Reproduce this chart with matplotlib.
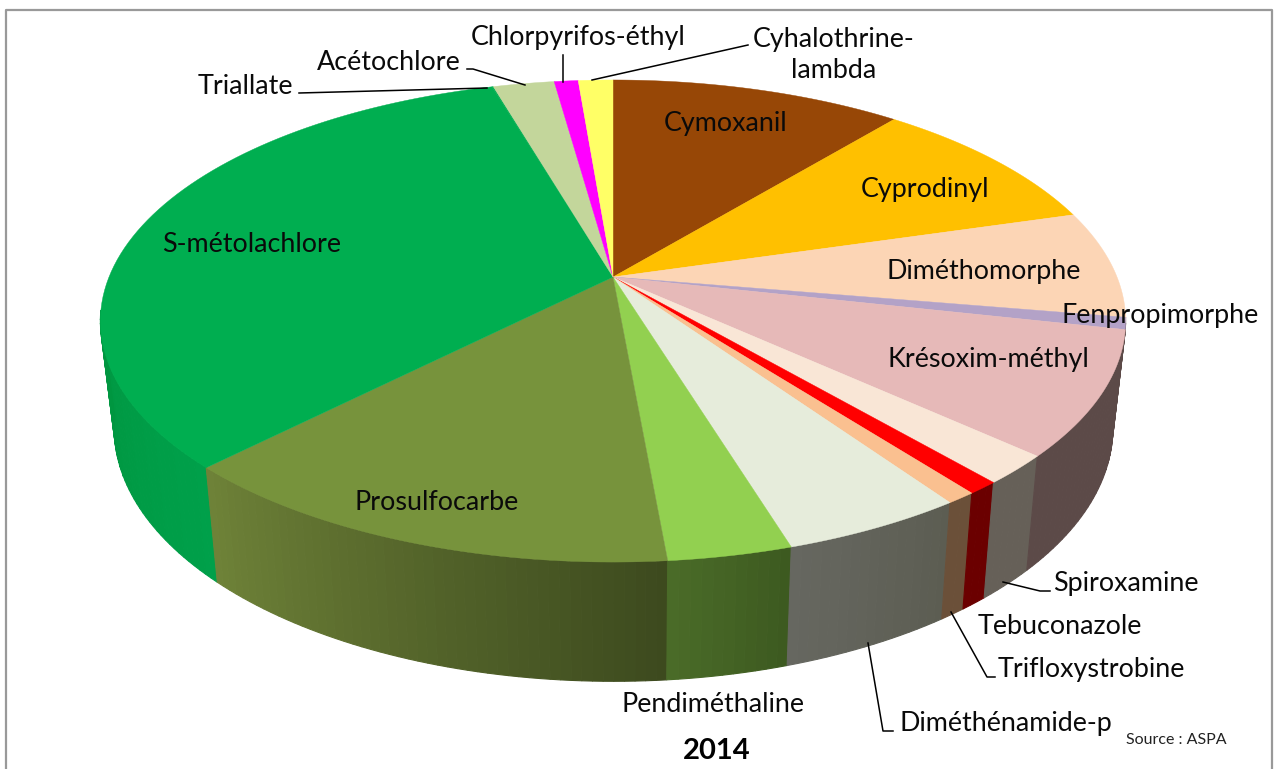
import numpy as np
import matplotlib
matplotlib.use('Agg')
from matplotlib import pyplot as plt

plt.rcParams['font.family'] = ['Lato', 'DejaVu Sans']

# share of each substance, clockwise from the top of the pie
substances = ['Cymoxanil', 'Cyprodinyl', 'Diméthomorphe', 'Fenpropimorphe', 'Krésoxim-méthyl',
              'Spiroxamine', 'Tebuconazole', 'Trifloxystrobine', 'Diméthénamide-p', 'Pendiméthaline',
              'Prosulfocarbe', 'S-métolachlore', 'Triallate', 'Acétochlore', 'Chlorpyrifos-éthyl',
              'Cyhalothrine-lambda']
shares = [10.97, 9.5, 7.2, 0.8, 8.3, 1.95, 0.85, 0.8, 4.9, 3.3, 13.8, 33.05, 0.05, 2.3, 0.9, 1.3]
top_colors = ['#974706', '#FFC000', '#FCD5B5', '#B3A2C7', '#E6B9B8', '#F9E6D6', '#FF0000', '#FAC090',
              '#E6ECDB', '#92D050', '#77933C', '#00AE50', '#00AE50', '#C3D69B', '#FF00FF', '#FFFF66']
# wall colours at the screen left and right end of each slice
wall_left = ['#974706', '#FFC000', '#FCD5B5', '#5C4A48', '#5C4A48', '#666058', '#6B0000', '#6B5039',
             '#666760', '#4A6B28', '#6E8238', '#009640', '#00A04A', '#C3D69B', '#FF00FF', '#FFFF66']
wall_right = ['#974706', '#FFC000', '#FCD5B5', '#5C4A48', '#5C4A48', '#666058', '#6B0000', '#6B5039',
              '#5C5D52', '#3D5A20', '#3D4A1E', '#00A04A', '#00A04A', '#C3D69B', '#FF00FF', '#FFFF66']

# perspective of the disc, in pixels
CX, CY = 613, 277
A, B, K = 504, 233, 0.1826
LOW_CX, LOW_CY, LOW_SX, LOW_SY = 613.5, 382, 0.974, 1.05


def rim(theta):
    w = 1 + K * np.cos(theta)
    return A * np.sin(theta) / w, B * np.cos(theta) / w


def rgb(c):
    return np.array(matplotlib.colors.to_rgb(c))


fig = plt.figure(figsize=(12.74, 7.69), dpi=100)
ax = fig.add_axes([0, 0, 1, 1])
ax.set_xlim(0, 1274)
ax.set_ylim(769, 0)
ax.axis('off')

edges = np.deg2rad(np.concatenate([[0], np.cumsum(shares)]) / sum(shares) * 360)

# side wall first, top face is painted over it
vis0, vis1 = np.deg2rad(98), np.deg2rad(262)
for i in range(len(shares)):
    t0, t1 = max(edges[i], vis0), min(edges[i + 1], vis1)
    if t1 <= t0:
        continue
    n = max(2, int(np.degrees(t1 - t0)))
    th = np.linspace(t0, t1, n + 1)
    u, v = rim(th)
    ux, uy = CX + u, CY - v
    lx, ly = LOW_CX + LOW_SX * u, LOW_CY - LOW_SY * v
    for j in range(n):
        f = j / max(n - 1, 1)
        # theta runs clockwise, so along the front wall it goes right to left
        col = rgb(wall_right[i]) * (1 - f) + rgb(wall_left[i]) * f
        ax.fill([ux[j], ux[j + 1], lx[j + 1], lx[j]], [uy[j], uy[j + 1], ly[j + 1], ly[j]],
                color=col, lw=0.8, zorder=2 + j * 1e-3)

# top face
for i in range(len(shares)):
    th = np.linspace(edges[i], edges[i + 1], 80)
    u, v = rim(th)
    ax.fill(np.r_[CX, CX + u], np.r_[CY, CY - v], color=top_colors[i], lw=0.3, zorder=3)

# labels
label_pos = [(726, 123), (925, 190), (984, 272), (1160, 315), (988, 360), (1126, 583), (1060, 626),
             (1091, 669), (1006, 724), (713, 705), (437, 503), (252, 244), (245, 86), (389, 62),
             (578, 38), (834, 55)]
label_txt = list(substances)
label_txt[15] = 'Cyhalothrine-\nlambda'
for txt, (x, y) in zip(label_txt, label_pos):
    ax.text(x, y, txt, fontsize=19.4, color='#0A0A0A', ha='center', va='center', zorder=6,
            linespacing=1.25)
ax.text(717, 751, '2014', fontsize=21, fontweight='bold', color='black', ha='center', va='center', zorder=6)
ax.text(1176, 740, 'Source : ASPA', fontsize=11.5, color='#222222', ha='center', va='center', zorder=6)

# leader lines
leaders = [([299, 487], [93, 88]),
           ([467, 473, 525], [69, 69, 85]),
           ([563, 563], [55, 82]),
           ([748, 592], [45, 80]),
           ([1050, 1040, 1003], [591, 591, 582]),
           ([995, 987, 951], [677, 677, 612]),
           ([893, 883, 868], [731, 731, 643])]
for xs, ys in leaders:
    ax.plot(xs, ys, color='black', lw=1.1, zorder=5)

# chart frame, cut off at the bottom of the picture
ax.plot([6, 6, 1272, 1272], [769, 10, 10, 769], color='#999999', lw=1.6, zorder=1)

fig.savefig('out.png', dpi=100)
